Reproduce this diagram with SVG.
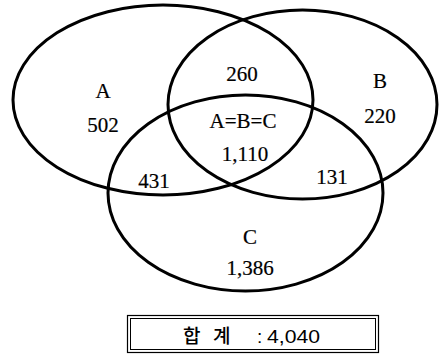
<svg xmlns="http://www.w3.org/2000/svg" width="441" height="355" viewBox="0 0 441 355">
  <style>
    .set { fill: none; stroke: #000; stroke-width: 3; }
    .lbl { font-family: "Liberation Serif", "DejaVu Serif", "Noto Serif", serif; font-size: 21px; fill: #000; stroke: #000; stroke-width: 0.2; text-anchor: middle; }
    .total { font-family: "Liberation Sans", "Noto Sans CJK KR", sans-serif; font-size: 19px; fill: #000; }
    .frame { fill: none; stroke: #000; }
  </style>
  <rect width="441" height="355" fill="#fff"/>

  <!-- set outlines -->
  <g id="set-a"><ellipse class="set" cx="163" cy="100" rx="150" ry="95"/></g>
  <g id="set-b"><ellipse class="set" cx="302.5" cy="104.5" rx="134.5" ry="94.5"/></g>
  <g id="set-c"><ellipse class="set" cx="245.5" cy="193" rx="137.5" ry="98"/></g>

  <!-- region labels -->
  <g id="labels">
    <text class="lbl" x="103" y="98">A</text>
    <text class="lbl" x="103" y="132">502</text>
    <text class="lbl" x="242" y="81">260</text>
    <text class="lbl" x="380" y="88">B</text>
    <text class="lbl" x="380" y="123">220</text>
    <text class="lbl" x="243" y="128">A=B=C</text>
    <text class="lbl" x="245" y="161">1,110</text>
    <text class="lbl" x="154" y="188">431</text>
    <text class="lbl" x="332" y="184">131</text>
    <text class="lbl" x="250" y="244">C</text>
    <text class="lbl" x="250" y="275">1,386</text>
  </g>

  <!-- total box -->
  <g id="total">
    <rect class="frame" x="127.5" y="315.5" width="251" height="37" stroke-width="1.2"/>
    <rect class="frame" x="130.5" y="318.5" width="245" height="31" stroke-width="1"/>
    <text class="total" y="343"><tspan x="183" font-weight="500">합</tspan><tspan x="213" font-weight="500">계</tspan><tspan x="257">:</tspan><tspan x="267" textLength="53" lengthAdjust="spacingAndGlyphs">4,040</tspan></text>
  </g>
</svg>
